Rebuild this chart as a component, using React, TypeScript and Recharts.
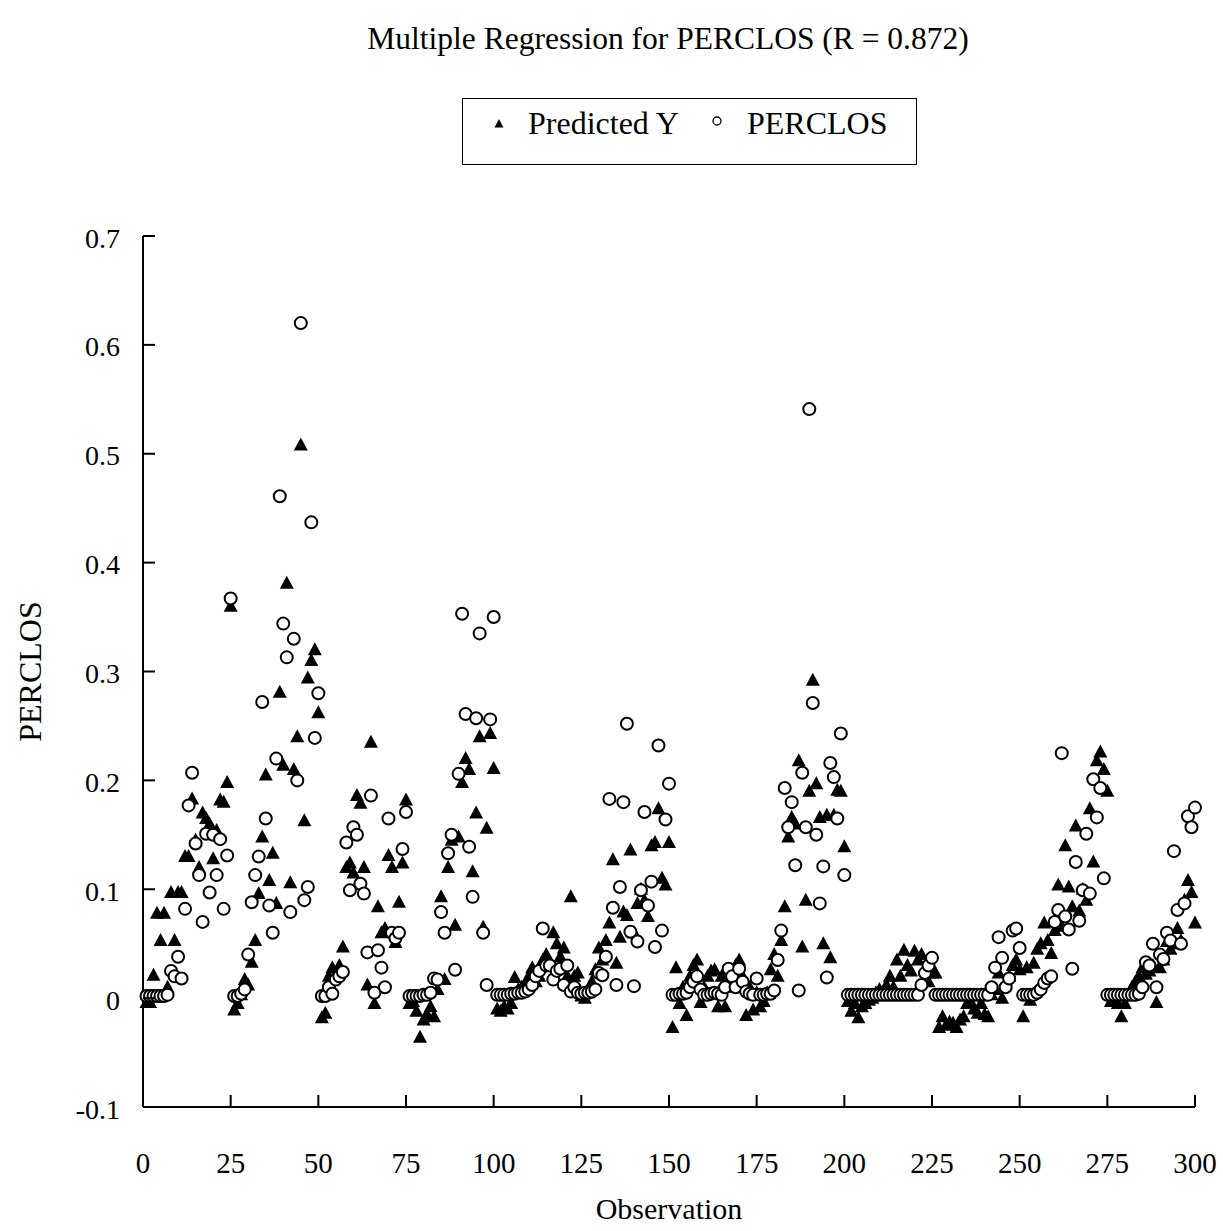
import React from 'react';
import { ScatterChart, Scatter, XAxis, YAxis, Legend } from 'recharts';

const FONT = '"Liberation Serif", "Times New Roman", "DejaVu Serif", serif';

const chartTitle = 'Multiple Regression for PERCLOS (R = 0.872)';
const seriesNames = ['Predicted Y', 'PERCLOS'];
const xTicks = [0, 25, 50, 75, 100, 125, 150, 175, 200, 225, 250, 275, 300];
const yTicks = [-0.1, 0, 0.1, 0.2, 0.3, 0.4, 0.5, 0.6, 0.7];

// Predicted Y, observations 1-50, 51-100, ...
const predicted1 = [
  -0.004, -0.004, 0.021, 0.078, 0.053, 0.078, 0.01, 0.097, 0.053, 0.097,
  0.097, 0.13, 0.13, 0.183, 0.145, 0.12, 0.17, 0.165, 0.16, 0.128,
  0.154, 0.182, 0.18, 0.198, 0.36, -0.011, -0.005, 0.003, 0.017, 0.012,
  0.033, 0.053, 0.096, 0.148, 0.205, 0.108, 0.133, 0.087, 0.281, 0.214,
  0.381, 0.106, 0.21, 0.24, 0.508, 0.163, 0.294, 0.31, 0.32, 0.262,
];
const predicted2 = [
  -0.018, -0.014, 0.02, 0.028, 0.022, 0.03, 0.047, 0.12, 0.124, 0.115,
  0.186, 0.179, 0.12, 0.012, 0.235, -0.005, 0.084, 0.06, 0.064, 0.131,
  0.12, 0.051, 0.088, 0.124, 0.182, -0.005, -0.003, -0.012, -0.036, -0.02,
  -0.015, -0.008, -0.017, 0.008, 0.093, 0.017, 0.12, 0.145, 0.067, 0.148,
  0.198, 0.22, 0.21, 0.116, 0.17, 0.24, 0.065, 0.156, 0.243, 0.211,
];
const predicted3 = [
  -0.01, -0.012, -0.008, -0.01, -0.005, 0.019, 0.008, 0.01, 0.012, 0.02,
  0.028, 0.015, 0.02, 0.035, 0.04, 0.03, 0.06, 0.05, 0.038, 0.046,
  0.02, 0.093, 0.02, 0.023, 0.002, 0.0, 0.005, 0.015, 0.026, 0.046,
  0.035, 0.053, 0.069, 0.127, 0.032, 0.056, 0.079, 0.076, 0.136, 0.06,
  0.087, 0.1, 0.09, 0.075, 0.14, 0.143, 0.174, 0.11, 0.104, 0.143,
];
const predicted4 = [
  -0.027, 0.028, -0.005, 0.01, -0.016, 0.02, 0.03, 0.035, -0.004, 0.01,
  0.02, 0.025, 0.026, -0.008, 0.02, -0.008, 0.015, 0.01, 0.03, 0.035,
  0.02, -0.016, 0.01, -0.011, 0.005, -0.008, -0.003, 0.005, 0.026, 0.04,
  0.02, 0.053, 0.084, 0.148, 0.166, 0.16, 0.218, 0.047, 0.09, 0.19,
  0.292, 0.197, 0.166, 0.05, 0.168, 0.037, 0.168, 0.191, 0.19, 0.139,
];
const predicted5 = [
  -0.003, -0.012, -0.005, -0.018, -0.008, -0.005, -0.002, 0.0, 0.005, 0.008,
  0.005, 0.012, 0.02, 0.01, 0.035, 0.02, 0.044, 0.03, 0.025, 0.043,
  0.035, 0.04, 0.026, 0.015, 0.023, 0.023, -0.027, -0.017, -0.025, -0.022,
  -0.023, -0.027, -0.02, -0.017, -0.005, -0.003, -0.01, -0.014, -0.005, -0.015,
  -0.017, 0.003, 0.008, 0.023, 0.0, 0.013, 0.02, 0.03, 0.035, 0.026,
];
const predicted6 = [
  -0.017, 0.028, -0.002, 0.032, 0.045, 0.05, 0.069, 0.053, 0.041, 0.062,
  0.104, 0.066, 0.14, 0.102, 0.084, 0.158, 0.08, 0.1, 0.09, 0.174,
  0.125, 0.218, 0.226, 0.21, 0.19, -0.003, 0.0, -0.005, -0.017, -0.005,
  0.003, 0.01, 0.015, 0.02, 0.028, 0.022, 0.025, 0.03, -0.004, 0.028,
  0.035, 0.052, 0.045, 0.05, 0.064, 0.053, 0.09, 0.108, 0.097, 0.069,
];

// PERCLOS, observations 1-50, 51-100, ...
const perclos1 = [
  0.002, 0.002, 0.002, 0.002, 0.002, 0.002, 0.003, 0.025, 0.02, 0.038,
  0.018, 0.082, 0.177, 0.207, 0.142, 0.113, 0.07, 0.151, 0.097, 0.15,
  0.113, 0.146, 0.082, 0.131, 0.367, 0.002, 0.002, 0.004, 0.008, 0.04,
  0.088, 0.113, 0.13, 0.272, 0.165, 0.085, 0.06, 0.22, 0.461, 0.344,
  0.313, 0.079, 0.33, 0.2, 0.62, 0.09, 0.102, 0.437, 0.239, 0.28,
];
const perclos2 = [
  0.002, 0.002, 0.01, 0.004, 0.017, 0.02, 0.024, 0.143, 0.099, 0.157,
  0.15, 0.105, 0.096, 0.042, 0.186, 0.005, 0.044, 0.028, 0.01, 0.165,
  0.06, 0.055, 0.06, 0.137, 0.171, 0.002, 0.002, 0.002, 0.002, 0.003,
  0.003, 0.005, 0.018, 0.017, 0.079, 0.06, 0.133, 0.15, 0.026, 0.206,
  0.353, 0.261, 0.139, 0.093, 0.257, 0.335, 0.06, 0.012, 0.256, 0.35,
];
const perclos3 = [
  0.003, 0.003, 0.003, 0.003, 0.004, 0.004, 0.005, 0.005, 0.006, 0.008,
  0.012, 0.02, 0.025, 0.064, 0.03, 0.03, 0.017, 0.025, 0.027, 0.012,
  0.03, 0.006, 0.01, 0.005, 0.004, 0.005, 0.005, 0.006, 0.008, 0.023,
  0.021, 0.038, 0.183, 0.083, 0.012, 0.102, 0.18, 0.252, 0.061, 0.011,
  0.052, 0.099, 0.171, 0.085, 0.107, 0.047, 0.232, 0.062, 0.164, 0.197,
];
const perclos4 = [
  0.003, 0.003, 0.004, 0.004, 0.005, 0.01, 0.015, 0.02, 0.008, 0.003,
  0.003, 0.004, 0.005, 0.004, 0.003, 0.01, 0.027, 0.02, 0.01, 0.027,
  0.015, 0.006, 0.004, 0.003, 0.018, 0.003, 0.003, 0.004, 0.004, 0.007,
  0.035, 0.062, 0.193, 0.157, 0.18, 0.122, 0.007, 0.207, 0.157, 0.541,
  0.271, 0.15, 0.087, 0.121, 0.019, 0.216, 0.203, 0.165, 0.243, 0.113,
];
const perclos5 = [
  0.003, 0.003, 0.003, 0.003, 0.003, 0.003, 0.003, 0.003, 0.003, 0.003,
  0.003, 0.003, 0.003, 0.003, 0.003, 0.003, 0.003, 0.003, 0.003, 0.003,
  0.003, 0.012, 0.023, 0.03, 0.037, 0.003, 0.003, 0.003, 0.003, 0.003,
  0.003, 0.003, 0.003, 0.003, 0.003, 0.003, 0.003, 0.003, 0.003, 0.003,
  0.003, 0.01, 0.028, 0.056, 0.037, 0.01, 0.018, 0.062, 0.064, 0.046,
];
const perclos6 = [
  0.003, 0.003, 0.003, 0.003, 0.005, 0.008, 0.014, 0.018, 0.02, 0.07,
  0.081, 0.225, 0.075, 0.063, 0.027, 0.125, 0.071, 0.099, 0.151, 0.096,
  0.201, 0.166, 0.193, 0.11, 0.003, 0.003, 0.003, 0.003, 0.003, 0.003,
  0.003, 0.003, 0.003, 0.004, 0.01, 0.033, 0.03, 0.05, 0.01, 0.04,
  0.036, 0.06, 0.053, 0.135, 0.081, 0.05, 0.087, 0.167, 0.157, 0.175,
];

const predicted = [...predicted1, ...predicted2, ...predicted3, ...predicted4, ...predicted5, ...predicted6];
const perclos = [...perclos1, ...perclos2, ...perclos3, ...perclos4, ...perclos5, ...perclos6];

const predData = predicted.map((v, i) => ({ obs: i + 1, value: v }));
const perclosData = perclos.map((v, i) => ({ obs: i + 1, value: v }));

const TriangleShape = (props: any) => {
  const { cx, cy } = props;
  if (cx == null || cy == null) return null;
  return (
    <polygon
      points={`${cx},${cy - 7.5} ${cx - 7},${cy + 5.5} ${cx + 7},${cy + 5.5}`}
      fill="#000"
    />
  );
};

const CircleShape = (props: any) => {
  const { cx, cy } = props;
  if (cx == null || cy == null) return null;
  return <circle cx={cx} cy={cy} r={6} fill="#fff" stroke="#000" strokeWidth={2} />;
};

const fmtY = (v: number) => (Math.abs(v) < 1e-9 ? '0' : v.toFixed(1));

const YTick = (props: any) => {
  const { x, y, payload } = props;
  return (
    <g>
      <line x1={x + 23} x2={x + 35} y1={y} y2={y} stroke="#000" strokeWidth={2} />
      <text
        x={x}
        y={y + 2}
        textAnchor="end"
        dominantBaseline="central"
        fontSize={28}
        fontFamily={FONT}
        fill="#000"
      >
        {fmtY(payload.value)}
      </text>
    </g>
  );
};

const XTick = (props: any) => {
  const { x, y, payload } = props;
  return (
    <g>
      <line x1={x} x2={x} y1={y - 56} y2={y - 68} stroke="#000" strokeWidth={2} />
      <text
        x={x}
        y={y}
        textAnchor="middle"
        dominantBaseline="central"
        fontSize={29}
        fontFamily={FONT}
        fill="#000"
      >
        {payload.value}
      </text>
    </g>
  );
};

const LegendContent = () => (
  <div
    style={{
      position: 'relative',
      width: 455,
      height: 67,
      border: '1.5px solid #000',
      boxSizing: 'border-box',
      fontFamily: FONT,
      fontSize: 32,
      color: '#000',
      background: '#fff',
    }}
  >
    <svg style={{ position: 'absolute', left: 29, top: 18 }} width={14} height={14}>
      <polygon points="7,2 2.5,10.5 11.5,10.5" fill="#000" />
    </svg>
    <span style={{ position: 'absolute', left: 65, top: 7, lineHeight: '34px', whiteSpace: 'nowrap' }}>
      {seriesNames[0]}
    </span>
    <svg style={{ position: 'absolute', left: 247, top: 15, overflow: 'visible' }} width={14} height={14}>
      <circle cx={7} cy={7} r={4} fill="#fff" stroke="#000" strokeWidth={1.3} />
    </svg>
    <span style={{ position: 'absolute', left: 284, top: 7, lineHeight: '34px', whiteSpace: 'nowrap' }}>
      {seriesNames[1]}
    </span>
  </div>
);

export default function App() {
  return (
    <div style={{ position: 'absolute', left: 0, top: 0, width: 1223, height: 1231, background: '#fff' }}>
      <div
        style={{
          position: 'absolute',
          left: 0,
          top: 21,
          width: 1336,
          textAlign: 'center',
          fontFamily: FONT,
          fontSize: 31.5,
          lineHeight: '36px',
          color: '#000',
          whiteSpace: 'nowrap',
        }}
      >
        {chartTitle}
      </div>
      <ScatterChart
        width={1223}
        height={1231}
        margin={{ top: 236, right: 28, bottom: 0, left: 0 }}
      >
        <XAxis
          type="number"
          dataKey="obs"
          domain={[0, 300]}
          ticks={xTicks}
          interval={0}
          height={124}
          tickSize={12}
          tickMargin={44}
          tickLine={false}
          tick={<XTick />}
          axisLine={{ stroke: '#000', strokeWidth: 2 }}
          label={{
            content: (p: any) => {
              const vb = p.viewBox || { x: 143, width: 1052 };
              return (
                <text
                  x={vb.x + vb.width / 2}
                  y={1208}
                  textAnchor="middle"
                  dominantBaseline="central"
                  fontSize={30}
                  fontFamily={FONT}
                  fill="#000"
                >
                  Observation
                </text>
              );
            },
          }}
        />
        <YAxis
          type="number"
          dataKey="value"
          domain={[-0.1, 0.7]}
          ticks={yTicks}
          interval={0}
          width={143}
          tickSize={12}
          tickMargin={11}
          tickLine={false}
          tick={<YTick />}
          axisLine={{ stroke: '#000', strokeWidth: 2 }}
          allowDataOverflow
          label={{
            content: (p: any) => {
              const vb = p.viewBox || { y: 236, height: 871 };
              const cy = vb.y + vb.height / 2;
              return (
                <text
                  x={30}
                  y={cy}
                  textAnchor="middle"
                  dominantBaseline="central"
                  fontSize={32}
                  fontFamily={FONT}
                  fill="#000"
                  transform={`rotate(-90, 30, ${cy})`}
                >
                  PERCLOS
                </text>
              );
            },
          }}
        />
        <Legend
          layout="horizontal"
          verticalAlign="middle"
          align="center"
          content={<LegendContent />}
          wrapperStyle={{ position: 'absolute', left: 462, top: 98, width: 455, height: 67 }}
        />
        <Scatter
          name={seriesNames[0]}
          data={predData}
          shape={<TriangleShape />}
          isAnimationActive={false}
        />
        <Scatter
          name={seriesNames[1]}
          data={perclosData}
          shape={<CircleShape />}
          isAnimationActive={false}
        />
      </ScatterChart>
    </div>
  );
}
